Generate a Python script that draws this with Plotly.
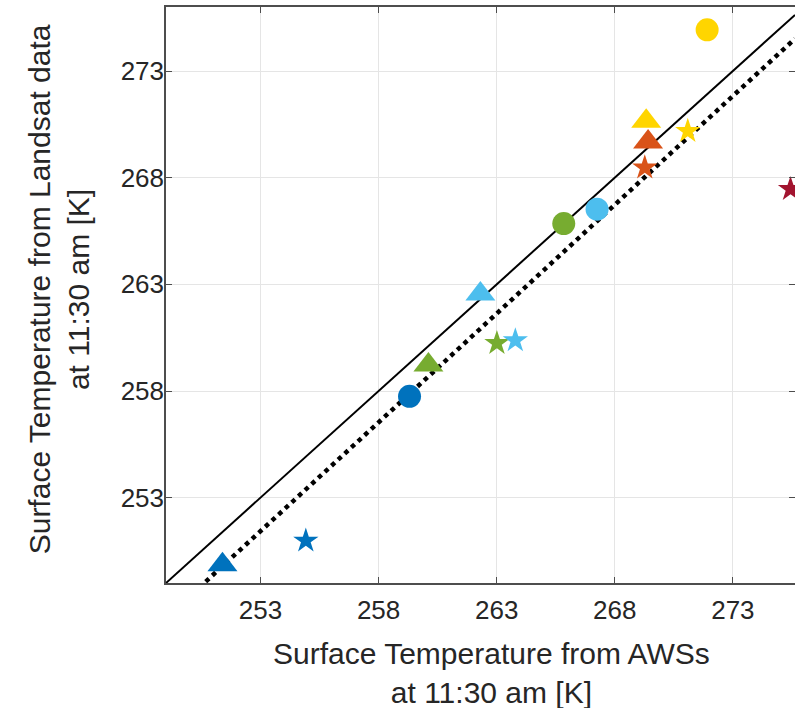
import plotly.graph_objects as go

# ---- data ----
circle_x = [259.31, 271.91, 265.84, 267.25]
circle_y = [257.75, 274.93, 265.85, 266.52]
circle_c = ["#0072BD", "#FFD500", "#77AC30", "#4DBEEE"]

triangle_x = [251.39, 269.41, 269.33, 260.11, 262.31]
triangle_y = [249.86, 269.67, 270.65, 259.22, 262.55]
triangle_c = ["#0072BD", "#D95319", "#FFD500", "#77AC30", "#4DBEEE"]

star_x = [254.92, 269.27, 271.09, 263.01, 263.79, 275.44]
star_y = [250.98, 268.47, 270.18, 260.24, 260.37, 267.46]
star_c = ["#0072BD", "#D95319", "#FFD500", "#77AC30", "#4DBEEE", "#A2142F"]

x_range = [249.0, 275.63]
y_range = [249.0, 276.0]
tick_vals = [253, 258, 263, 268, 273]
tick_text = ["253", "258", "263", "268", "273"]

fit_slope = 1.02
fit_intercept = -6.63

x_title = "Surface Temperature from AWSs<br>at 11:30 am [K]"
y_title = "Surface Temperature from Landsat data<br>at 11:30 am [K]"

FONT = "Liberation Sans, Arial, Helvetica, sans-serif"

# ---- figure ----
fig = go.Figure()

# 1:1 line
fig.add_trace(go.Scatter(x=x_range, y=x_range, mode="lines",
                         line=dict(color="black", width=2), hoverinfo="skip",
                         showlegend=False))
# fitted line
fit_y = [fit_slope * v + fit_intercept for v in x_range]
fig.add_trace(go.Scatter(x=x_range, y=fit_y, mode="lines",
                         line=dict(color="black", width=4.5, dash="dot"),
                         hoverinfo="skip", showlegend=False))

fig.add_trace(go.Scatter(x=circle_x, y=circle_y, mode="markers",
                         marker=dict(symbol="circle", size=23, color=circle_c,
                                     line=dict(width=0)), showlegend=False))
fig.add_trace(go.Scatter(x=triangle_x, y=triangle_y, mode="markers",
                         marker=dict(symbol="triangle-up", size=26, color=triangle_c,
                                     line=dict(width=0)), showlegend=False))
fig.add_trace(go.Scatter(x=star_x, y=star_y, mode="markers",
                         marker=dict(symbol="star", size=19, color=star_c,
                                     line=dict(width=0)), showlegend=False))

axis_color = "#4d4d4d"
font_color = "#262626"
common = dict(
    showgrid=True, gridcolor="#e5e5e5", gridwidth=1,
    zeroline=False, showline=True, linecolor=axis_color, linewidth=1.5,
    ticks="inside", ticklen=6, tickwidth=1.2, tickcolor=axis_color,
    tickvals=tick_vals, ticktext=tick_text,
    tickfont=dict(family=FONT, size=26, color=font_color),
)

fig.update_xaxes(range=x_range, mirror="ticks", ticklabelstandoff=3, **common)
fig.update_yaxes(range=y_range, mirror="ticks", ticklabelstandoff=-5, **common)

title_font = dict(family=FONT, size=30, color=font_color)
fig.add_annotation(text=x_title, xref="paper", yref="paper", x=0.518, y=-0.156,
                   xanchor="center", yanchor="middle", showarrow=False,
                   font=title_font, align="center")
fig.add_annotation(text=y_title, xref="paper", yref="paper", x=-0.17, y=0.51,
                   xanchor="center", yanchor="middle", showarrow=False,
                   textangle=-90, font=title_font, align="center")

fig.update_layout(
    width=795, height=708,
    margin=dict(l=166, r=0, t=7, b=125, autoexpand=False),
    paper_bgcolor="white", plot_bgcolor="white",
    showlegend=False,
)

fig.write_html("out.html")
